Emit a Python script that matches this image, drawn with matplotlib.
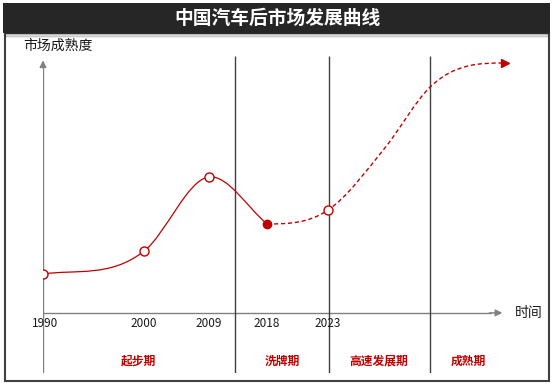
import numpy as np
import matplotlib.pyplot as plt
from matplotlib.path import Path
from matplotlib.patches import PathPatch, Rectangle

plt.rcParams['font.family'] = ['Noto Sans CJK SC', 'DejaVu Sans']

# data (x: position on the time axis, y: market maturity, both 0-100)
years = ['1990', '2000', '2009', '2018', '2023']
year_pos = [0.0, 21.9, 35.9, 48.5, 61.7]
maturity = [15.1, 24.0, 52.7, 34.5, 39.9]

# projected part after 2023
proj_pos = [74.0, 83.8, 100.0]
proj_val = [64.0, 87.6, 96.9]

phases = ['起步期', '洗牌期', '高速发展期', '成熟期']
phase_bounds = [41.6, 61.9, 83.8]
phase_label_pos = [20.6, 51.7, 72.7, 92.0]

RED = '#C00000'
GRAY = '#808080'


def smooth_path(xs, ys, end_slopes=None):
    # cubic hermite through the points, drawn as bezier segments
    xs = np.asarray(xs, float)
    ys = np.asarray(ys, float)
    h = np.diff(xs)
    d = np.diff(ys) / h
    m = np.empty(len(xs))
    m[0], m[-1] = d[0], d[-1]
    for i in range(1, len(xs) - 1):
        m[i] = (h[i] * d[i - 1] + h[i - 1] * d[i]) / (h[i - 1] + h[i])
    if end_slopes is not None:
        m[0], m[-1] = end_slopes
    verts = [(xs[0], ys[0])]
    codes = [Path.MOVETO]
    for i in range(len(h)):
        verts += [(xs[i] + h[i] / 3, ys[i] + m[i] * h[i] / 3),
                  (xs[i + 1] - h[i] / 3, ys[i + 1] - m[i + 1] * h[i] / 3),
                  (xs[i + 1], ys[i + 1])]
        codes += [Path.CURVE4] * 3
    return Path(verts, codes)


fig = plt.figure(figsize=(5.58, 3.86), dpi=100)
W, H = 558, 386

# title bar + frame
fig.patches.append(Rectangle((5 / W, 1 - 381 / H), 544 / W, 348 / H, transform=fig.transFigure,
                             fill=False, edgecolor='#404040', linewidth=1.5))
for k, a in enumerate([0.25, 0.15, 0.07]):
    fig.patches.append(Rectangle((5 / W, 1 - (35 + k * 1.5) / H), 544 / W, 1.5 / H,
                                 transform=fig.transFigure, color='#000000', alpha=a, lw=0))
fig.patches.append(Rectangle((3 / W, 1 - 33 / H), 547 / W, 30 / H, transform=fig.transFigure,
                             color='#262626', lw=0))
fig.text(277 / W, 1 - 18 / H, '中国汽车后市场发展曲线', color='white', fontsize=13.5,
         fontweight='bold', ha='center', va='center')
fig.text(23 / W, 1 - 46 / H, '市场成熟度', fontsize=10, color='#1a1a1a', ha='left', va='center')

ax = fig.add_axes([43 / W, 13 / H, 469 / W, 318 / H])
ax.set_xlim(0, 101.5)
ax.set_ylim(-23.3, 100)
ax.set_axis_off()

# axes with arrows
ax.plot([0, 0], [-23.3, 95], color=GRAY, lw=1)
ax.annotate('', xy=(0, 99), xytext=(0, 94),
            arrowprops=dict(arrowstyle='-|>', color=GRAY, lw=1, mutation_scale=10))
ax.plot([0, 97], [0, 0], color=GRAY, lw=1)
ax.annotate('', xy=(100, 0), xytext=(96, 0),
            arrowprops=dict(arrowstyle='-|>', color=GRAY, lw=1, mutation_scale=10))
ax.text(105.2, 0, '时间', fontsize=10, color='#1a1a1a', ha='center', va='center', clip_on=False)

# phase separators
ax.vlines(phase_bounds, -23.3, 99.6, color='#404040', lw=1)

# history curve (solid)
hx, hy = year_pos[:4], maturity[:4]
sx = (0.25, (hy[-1] - hy[-2]) / (hx[-1] - hx[-2]))
ax.add_patch(PathPatch(smooth_path(hx, hy, end_slopes=sx), fill=False,
                       edgecolor=RED, lw=0.9, zorder=3))
# projection (dashed), flat at both ends
dx = year_pos[3:] + proj_pos
dy = maturity[3:] + proj_val
ax.add_patch(PathPatch(smooth_path(dx, dy, end_slopes=(0.0, 0.0)), fill=False, edgecolor=RED,
                       lw=1.0, linestyle=(0, (3, 2)), zorder=3))
ax.plot(proj_pos[-1], proj_val[-1], marker='>', color=RED, markersize=6, zorder=4)

ax.plot([year_pos[i] for i in (0, 1, 2, 4)], [maturity[i] for i in (0, 1, 2, 4)], 'o',
        mfc='white', mec=RED, mew=1, markersize=6.5, zorder=5)
ax.plot(year_pos[3], maturity[3], 'o', color=RED, markersize=6, zorder=5)

for x, lab in zip(year_pos, years):
    ax.text(x + (0.5 if lab == '1990' else 0), -4.3, lab, fontsize=8.5, color='#1a1a1a',
            ha='center', va='center')

for x, lab in zip(phase_label_pos, phases):
    ax.text(x, -18.6, lab, fontsize=8.5, color=RED, fontweight='bold', ha='center', va='center')

fig.savefig('out.png', dpi=100)
